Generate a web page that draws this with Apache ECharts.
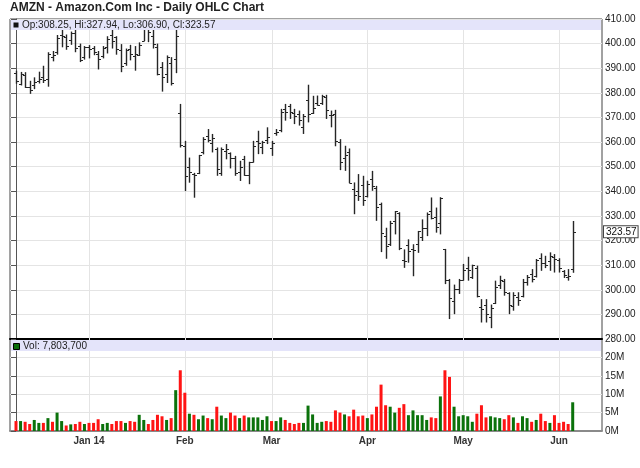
<!DOCTYPE html>
<html><head><meta charset="utf-8">
<script src="https://cdn.jsdelivr.net/npm/echarts@6/dist/echarts.min.js"></script>
<style>html,body{margin:0;padding:0;background:#fff}#c{width:640px;height:468px}</style>
</head><body><div id="c"></div>
<script>
// Daily OHLC for AMZN, 2013-12-09 .. 2014-06-05 (trading-day index 0..122)
const opens=[388.0,383.5,387.3,382.5,383.0,385.0,386.5,385.5,394.5,396.5,403.5,402.5,401.5,404.5,399.0,394.5,
398.8,398.3,395.9,395.0,398.5,403.5,402.5,397.5,392.0,398.0,395.0,395.5,401.0,407.0,403.0,398.5,390.5,387.5,392.0,393.8,372.0,
358.5,349.7,347.0,347.5,356.0,362.5,359.5,357.0,347.5,356.5,355.5,353.5,348.0,353.0,346.5,352.0,360.5,358.0,361.0,
357.5,363.5,365.0,373.5,374.5,372.0,371.5,366.0,376.9,372.0,376.0,376.0,378.5,371.0,371.5,360.0,353.5,356.0,341.0,340.0,342.5,
338.0,345.0,341.5,335.0,322.0,318.5,328.0,331.0,312.0,318.0,316.5,318.5,321.5,325.0,332.0,329.5,327.0,316.5,304.0,295.5,300.5,
304.0,309.0,305.0,309.0,292.8,294.0,289.0,294.5,302.0,303.5,298.5,293.5,297.0,297.5,303.0,306.5,305.5,313.0,311.0,311.5,313.5,
312.0,307.5,305.0,308.25];
const highs=[389.0,388.5,388.4,384.9,386.3,388.6,391.0,396.5,397.0,403.5,405.6,403.7,404.9,405.6,400.0,399.0,
399.4,399.0,397.0,399.0,403.0,406.9,403.0,399.8,398.0,399.5,399.0,400.5,407.5,408.0,407.0,400.0,392.5,395.2,394.5,406.2,375.5,
360.5,353.7,347.5,354.8,362.0,365.3,363.3,357.8,357.8,359.2,355.8,354.4,352.4,354.4,352.0,360.5,364.6,360.5,366.0,
360.5,365.3,373.5,375.5,375.5,373.5,372.8,371.4,383.3,378.8,378.9,379.2,379.2,372.8,373.1,361.2,358.5,357.4,343.6,347.0,346.3,
344.3,348.3,342.2,335.4,325.2,328.0,332.0,331.5,316.4,320.5,318.5,323.9,328.6,331.4,337.5,333.4,337.6,316.6,304.4,302.1,304.4,
310.5,313.4,310.2,309.8,296.2,296.2,294.0,303.7,305.7,304.4,299.0,299.0,299.0,304.4,306.0,308.4,312.5,314.8,313.8,315.2,314.5,
312.8,308.0,308.4,327.94];
const lows=[383.7,383.0,382.0,379.6,381.5,383.8,384.0,382.5,392.8,395.5,398.5,397.5,399.5,396.5,392.5,393.5,
394.0,395.3,389.5,394.0,396.0,398.0,395.5,388.4,391.0,393.2,389.0,395.0,401.0,400.6,398.0,387.1,380.5,384.0,383.0,388.0,357.8,
340.1,343.5,337.4,347.0,355.0,359.9,355.8,346.3,346.3,353.0,349.3,346.3,344.2,346.3,342.9,351.7,355.1,355.1,359.2,
354.4,362.6,364.0,368.7,369.4,367.3,366.7,363.3,368.0,371.4,374.8,375.1,369.4,366.0,358.3,348.6,348.3,343.3,330.7,336.1,334.1,
337.5,340.2,328.0,315.3,312.6,317.8,322.5,316.1,308.9,311.0,305.5,315.0,319.8,321.8,328.6,323.2,322.5,302.3,288.1,290.1,298.3,
303.7,303.7,304.4,296.9,286.7,286.7,284.4,294.2,300.3,297.6,290.1,291.5,293.5,296.9,301.7,303.0,305.0,307.7,308.8,307.7,307.0,
307.0,304.8,303.7,306.90];
const closes=[384.89,387.78,382.19,381.25,384.24,385.57,385.2,395.96,395.19,402.20,402.92,399.20,404.39,398.08,393.37,398.79,
397.97,396.44,393.63,398.03,401.92,401.01,397.66,390.98,397.54,395.87,395.80,399.61,407.05,404.54,399.87,387.60,386.28,394.43,384.20,403.01,358.69,
346.15,347.95,346.45,354.59,361.08,360.87,361.79,349.25,357.20,357.35,353.65,347.38,349.80,346.76,351.78,358.32,359.80,360.13,362.10,
359.78,363.90,372.37,372.16,372.06,370.53,368.82,370.64,371.51,373.7,375.04,378.77,373.23,370.8,360.62,351.85,354.71,343.41,338.47,338.29,336.37,
342.99,341.96,333.62,323.00,317.76,327.07,331.81,317.11,311.73,315.91,316.08,323.68,324.91,330.87,329.32,325.39,337.15,303.83,296.58,300.38,304.13,
307.89,308.01,310.05,297.38,292.0,290.0,292.7,301.0,304.0,299.0,294.0,297.7,296.0,303.0,305.0,304.5,312.2,310.8,310.2,313.8,312.5,
308.8,305.8,305.4,323.57];
// volume in millions of shares
const volumes=[2.7,2.7,2.5,1.9,3.0,2.2,2.2,3.5,2.5,5.0,2.7,1.5,1.8,1.9,2.5,1.9,
2.2,2.2,3.2,1.9,2.2,1.9,2.7,2.7,2.2,2.7,2.5,4.4,3.0,1.9,3.0,4.4,4.0,3.0,3.5,11.1,16.5,
10.4,4.7,4.4,3.2,4.2,3.5,3.2,6.6,4.2,3.5,5.0,4.2,3.5,4.2,3.7,3.7,3.7,3.0,4.0,
2.7,2.7,3.7,3.0,2.2,1.9,2.2,2.2,6.9,4.5,2.2,2.5,2.7,2.5,5.6,5.0,4.5,4.0,5.8,4.0,4.2,
3.5,4.5,6.6,12.6,7.0,6.6,5.0,6.3,7.3,4.3,5.6,4.3,4.3,3.0,3.7,3.5,9.4,16.5,14.7,6.6,4.0,
4.3,4.0,2.5,4.7,7.0,3.7,4.0,3.7,3.5,3.2,4.3,3.7,2.2,4.0,3.5,2.5,3.0,4.7,2.7,2.2,4.3,
2.2,2.5,1.9,7.8037];
const prevClose=386.95; // close of the session before the first bar
const monthIdx=[16,37,56,77,98,119];
const monthLabels=['Jan 14','Feb','Mar','Apr','May','Jun'];
const priceTicks={min:280,max:410,step:10};
const volTicks={min:0,max:25,step:5};

const FONT='"Liberation Sans", Arial, Helvetica, sans-serif';
const n=closes.length;
const last=n-1;
const ohlc=closes.map((c,i)=>[i,opens[i],highs[i],lows[i],c]);
const UP='#0b720b', DOWN='#ff1414';
const vol=volumes.map((v,i)=>({value:[i,v],itemStyle:{color:closes[i]>=(i?closes[i-1]:prevClose)?UP:DOWN}}));
const XMIN=-1.315, XMAX=128.42;
const GRID_COLOR='#e4e4e4';

function vgrid(params,api){
  const x=Math.round(api.coord([api.value(0),api.value(1)])[0])+0.5;
  const cs=params.coordSys;
  return {type:'line',silent:true,shape:{x1:x,y1:cs.y,x2:x,y2:cs.y+cs.height},style:{stroke:GRID_COLOR,lineWidth:1}};
}
function ohlcItem(params,api){
  const i=api.value(0);
  const pO=api.coord([i,api.value(1)]);
  const pH=api.coord([i,api.value(2)]);
  const pL=api.coord([i,api.value(3)]);
  const pC=api.coord([i,api.value(4)]);
  const x=Math.round(pH[0])+0.5;
  const yo=Math.round(pO[1])+0.5, yc=Math.round(pC[1])+0.5;
  const st={stroke:'#262626',lineWidth:1.4};
  const tk={stroke:'#262626',lineWidth:1};
  return {type:'group',children:[
    {type:'line',shape:{x1:x,y1:pH[1],x2:x,y2:pL[1]},style:st},
    {type:'line',shape:{x1:x-2.5,y1:yo,x2:x,y2:yo},style:tk},
    {type:'line',shape:{x1:x,y1:yc,x2:x+2.5,y2:yc},style:tk}
  ]};
}

const legendPrice='Op:'+opens[last].toFixed(2)+', Hi:'+highs[last].toFixed(2)+', Lo:'+lows[last].toFixed(2)+', Cl:'+closes[last].toFixed(2);
const legendVol='Vol: '+Math.round(volumes[last]*1e6).toLocaleString('en-US');

const chart=echarts.init(document.getElementById('c'),null,{renderer:'canvas'});
chart.setOption({
  animation:false,
  backgroundColor:'#fff',
  title:{text:'AMZN - Amazon.Com Inc - Daily OHLC Chart',left:10,top:2,padding:0,
    textStyle:{fontFamily:FONT,fontSize:12,fontWeight:'bold',color:'#222'}},
  grid:[
    {left:10,top:19,width:592,height:320,show:true,borderColor:'#444',borderWidth:1,backgroundColor:'#fff'},
    {left:10,top:339,width:592,height:92,show:true,borderColor:'#444',borderWidth:1,backgroundColor:'#fff'}
  ],
  xAxis:[
    {gridIndex:0,type:'value',min:XMIN,max:XMAX,
      axisLine:{show:true,onZero:false,lineStyle:{color:'#000',width:2}},
      axisTick:{show:false},axisLabel:{show:false},splitLine:{show:false}},
    {gridIndex:1,type:'value',min:XMIN,max:XMAX,
      axisLine:{show:true,onZero:false,lineStyle:{color:'#8a8a8a',width:2}},
      axisTick:{show:false},splitLine:{show:false},
      axisLabel:{customValues:monthIdx,hideOverlap:false,
        formatter:v=>{const k=monthIdx.indexOf(Math.round(v));return k>=0?monthLabels[k]:'';},
        fontFamily:FONT,fontSize:10,fontWeight:'bold',color:'#333',margin:5}}
  ],
  yAxis:[
    {gridIndex:0,type:'value',position:'right',min:priceTicks.min,max:priceTicks.max,interval:priceTicks.step,
      axisLine:{show:true,lineStyle:{color:'#555'}},
      axisTick:{show:true,inside:true,length:5,lineStyle:{color:'#555'}},
      axisLabel:{formatter:v=>v.toFixed(2),fontFamily:FONT,fontSize:10,color:'#222',margin:3},
      splitLine:{show:true,lineStyle:{color:GRID_COLOR}}},
    {gridIndex:1,type:'value',position:'right',min:volTicks.min,max:volTicks.max,interval:volTicks.step,
      axisLine:{show:true,lineStyle:{color:'#555'}},
      axisTick:{show:true,inside:true,length:5,lineStyle:{color:'#555'}},
      axisLabel:{formatter:v=>v>=volTicks.max?'':v+'M',fontFamily:FONT,fontSize:10,color:'#222',margin:3},
      splitLine:{show:true,lineStyle:{color:GRID_COLOR}}}
  ],
  series:[
    {type:'custom',xAxisIndex:0,yAxisIndex:0,z:1,silent:true,renderItem:vgrid,
      data:monthIdx.map(i=>[i,priceTicks.max]),encode:{x:0,y:1}},
    {type:'custom',xAxisIndex:1,yAxisIndex:1,z:1,silent:true,renderItem:vgrid,
      data:monthIdx.map(i=>[i,volTicks.max]),encode:{x:0,y:1}},
    {type:'custom',name:'OHLC',xAxisIndex:0,yAxisIndex:0,z:3,renderItem:ohlcItem,
      data:ohlc,encode:{x:0,y:[1,2,3,4]},
      markLine:{silent:true,symbol:'none',animation:false,lineStyle:{color:'rgba(0,0,0,0)',width:0},
        data:[{yAxis:closes[last]}],
        label:{show:true,position:'end',formatter:closes[last].toFixed(2),distance:2,
          fontFamily:FONT,fontSize:10,color:'#111',backgroundColor:'#fff',borderColor:'#444',borderWidth:1,padding:[1,1,0,2]}}},
    {type:'bar',name:'Volume',xAxisIndex:1,yAxisIndex:1,z:3,barWidth:3,data:vol}
  ],
  graphic:[
    {type:'rect',z:100,silent:true,shape:{x:11,y:20,width:590,height:10},style:{fill:'#e4e4fa'}},
    {type:'rect',z:101,silent:true,shape:{x:13.5,y:22.5,width:5,height:5},style:{fill:'#111'}},
    {type:'text',z:101,silent:true,x:22,y:25,style:{text:legendPrice,font:'10px '+FONT,fill:'#222',verticalAlign:'middle'}},
    {type:'rect',z:100,silent:true,shape:{x:11,y:340,width:590,height:11},style:{fill:'#e4e4fa'}},
    {type:'rect',z:101,silent:true,shape:{x:13.5,y:343.5,width:6,height:6},style:{fill:'#0b6e0b',stroke:'#000',lineWidth:1}},
    {type:'text',z:101,silent:true,x:23,y:346.5,style:{text:legendVol,font:'10px '+FONT,fill:'#222',verticalAlign:'middle'}}
  ]
});
</script></body></html>
